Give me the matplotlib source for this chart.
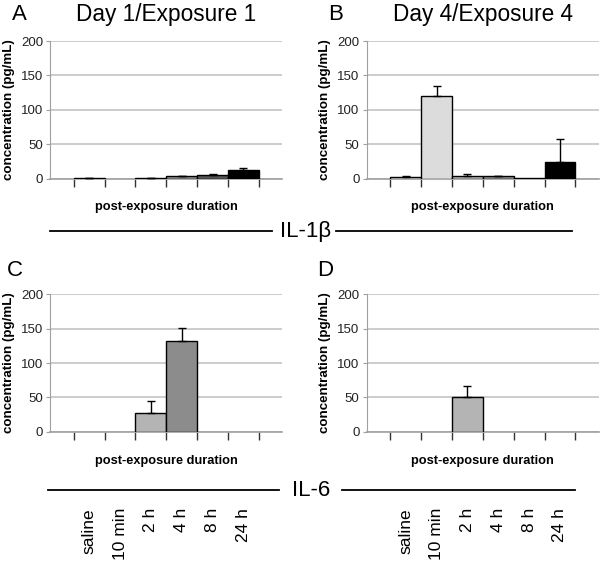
import numpy as np
import matplotlib
matplotlib.use("Agg")
import matplotlib.pyplot as plt
from matplotlib.lines import Line2D

plt.rcParams['font.family'] = ['Liberation Sans', 'DejaVu Sans']

categories = ["saline", "10 min", "2 h", "4 h", "8 h", "24 h"]
bar_colors = ["#ffffff", "#dcdcdc", "#b4b4b4", "#8c8c8c", "#555555", "#000000"]

# NaN = no bar drawn
a_vals = [1.0, np.nan, 0.8, 3.0, 5.0, 13.0]
a_errs = [0.3, np.nan, 0.3, 0.8, 1.0, 2.5]
b_vals = [2.0, 120.0, 4.0, 3.0, 0.5, 24.0]
b_errs = [1.5, 15.0, 3.0, 1.0, 0.0, 33.0]
c_vals = [np.nan, np.nan, 27.0, 132.0, np.nan, np.nan]
c_errs = [np.nan, np.nan, 18.0, 19.0, np.nan, np.nan]
d_vals = [np.nan, np.nan, 51.0, np.nan, np.nan, np.nan]
d_errs = [np.nan, np.nan, 15.0, np.nan, np.nan, np.nan]

panel_letters = ["A", "B", "C", "D"]
titles = ["Day 1/Exposure 1", "Day 4/Exposure 4", "", ""]
yticks = [0, 50, 100, 150, 200]
ylabel = "concentration (pg/mL)"
xlabel = "post-exposure duration"
cytokines = ["IL-1\u03b2", "IL-6"]

W, H = 600, 562
fig = plt.figure(figsize=(6.0, 5.62), dpi=100)

def fx(px):
    return px / W

def fy(py):
    return 1 - py / H

axw = 232 / W
axh = 137.4 / H
positions = [
    (fx(50), fy(178.5)),
    (fx(366.5), fy(178.5)),
    (fx(50), fy(431.7)),
    (fx(366.5), fy(431.7)),
]
data = [(a_vals, a_errs), (b_vals, b_errs), (c_vals, c_errs), (d_vals, d_errs)]

axes = []
for i, ((x0, y0), (vals, errs)) in enumerate(zip(positions, data)):
    ax = fig.add_axes([x0, y0, axw, axh])
    axes.append(ax)
    xs = np.arange(len(categories)) + 0.5
    for xi, v, e, c in zip(xs, vals, errs, bar_colors):
        if np.isnan(v):
            continue
        ax.bar(xi, v, width=1.0, color=c, edgecolor="black", linewidth=1.0, zorder=3)
        if e and not np.isnan(e) and e > 0:
            ax.errorbar(xi, v, yerr=[[0], [e]], fmt="none", ecolor="black",
                        elinewidth=1.0, capsize=3, capthick=1.0, zorder=4)
    ax.set_xlim(-0.77, 6.75)
    ax.set_ylim(0, 200)
    ax.set_yticks(yticks)
    ax.set_xticks(np.arange(len(categories) + 1))
    ax.set_xticklabels([])
    ax.yaxis.grid(True, color="#c4c4c4", linewidth=1.2, zorder=0)
    ax.set_axisbelow(True)
    for s in ["top", "right"]:
        ax.spines[s].set_visible(False)
    ax.spines["left"].set_color("#a0a0a0")
    ax.spines["bottom"].set_color("#a0a0a0")
    ax.spines["bottom"].set_linewidth(1.2)
    ax.tick_params(axis="y", direction="out", length=3, color="#a0a0a0",
                   labelsize=9.5, pad=2, labelcolor="#222222")
    ax.tick_params(axis="x", direction="out", length=5.5, width=1.0,
                   color="#333333")
    ax.set_ylabel(ylabel, fontsize=9.6, fontweight="bold")
    ax.yaxis.set_label_coords(-0.152, 0.5)
    ax.text(3, -0.21, xlabel, transform=ax.get_xaxis_transform(),
            ha="center", va="center", fontsize=9.2, fontweight="bold")
    if titles[i]:
        ax.text(3, 1.197, titles[i], transform=ax.get_xaxis_transform(),
                ha="center", va="center", fontsize=16.3)

# panel letters
fig.text(fx(12), fy(14), "A", fontsize=16, ha="left", va="center")
fig.text(fx(328), fy(14), "B", fontsize=16, ha="left", va="center")
fig.text(fx(7), fy(271), "C", fontsize=16, ha="left", va="center")
fig.text(fx(317), fy(270), "D", fontsize=16, ha="left", va="center")

# cytokine separators
def separator(y, x1, x2, x3, x4, label, xc):
    fig.add_artist(Line2D([fx(x1), fx(x2)], [fy(y), fy(y)], color="black", lw=1.3))
    fig.add_artist(Line2D([fx(x3), fx(x4)], [fy(y), fy(y)], color="black", lw=1.3))
    fig.text(fx(xc), fy(y), label, fontsize=16, ha="center", va="center")

separator(231, 50, 272, 336, 572, cytokines[0], 306)
separator(490, 48, 279, 342, 575, cytokines[1], 311)

# category labels below bottom panels
for ax in axes[2:]:
    for k, lab in enumerate(categories):
        ax.text(k + 0.5, -0.555, lab, transform=ax.get_xaxis_transform(),
                rotation=90, ha="center", va="top", fontsize=12.5)

fig.savefig("out.png", dpi=100)
